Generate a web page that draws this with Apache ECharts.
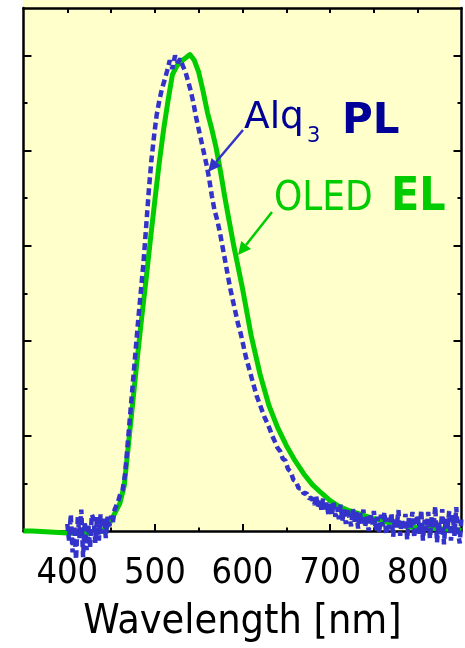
<!DOCTYPE html>
<html>
<head>
<meta charset="utf-8">
<script src="https://cdn.jsdelivr.net/npm/echarts@6/dist/echarts.min.js"></script>
<style>
html,body{margin:0;padding:0;background:#fff;}
#chart{width:465px;height:648px;}
</style>
</head>
<body>
<div id="chart"></div>
<script>
// ---- data ----
const elWavelength = [350,360,370,380,390,400,410,420,430,440,445,450,455,460,465,470,475,480,485,490,495,500,505,510,515,520,525,530,535,540,545,550,555,560,565,570,575,580,585,590,595,600,610,620,630,640,650,660,670,680,690,700,710,720,730,740,750,760,770,780,790,800,810,820,830,840,850];
const elIntensity = [0.000,0.000,-0.001,-0.002,-0.003,-0.004,-0.005,-0.005,-0.004,0.000,0.008,0.022,0.040,0.058,0.095,0.185,0.275,0.365,0.450,0.530,0.615,0.696,0.775,0.845,0.905,0.960,0.978,0.988,0.995,1.002,0.990,0.965,0.925,0.880,0.845,0.805,0.755,0.700,0.650,0.600,0.555,0.510,0.410,0.330,0.265,0.218,0.180,0.148,0.120,0.097,0.080,0.064,0.052,0.044,0.038,0.032,0.026,0.021,0.016,0.012,0.009,0.007,0.006,0.005,0.004,0.003,0.001];

const plWavelength = [
 400,402,404,406,408,410,412,414,416,418,420,422,424,426,428,430,432,434,436,438,440,442,444,446,448,450,452,454,456,458,460,
 463,466,469,472,475,478,481,484,487,490,493,496,499,502,505,508,511,514,517,520,523,526,529,532,535,538,541,544,547,550,553,556,559,562,565,568,571,574,577,580,583,586,589,592,595,598,601,604,607,610,613,616,619,622,625,628,631,634,637,640,643,646,649,652,655,658,661,664,667,670,673,676,679,
 680,682,684,686,688,690,692,694,696,698,700,702,704,706,708,710,712,714,716,718,720,722,724,726,728,730,732,734,736,738,740,742,744,746,748,750,752,754,756,758,760,762,764,766,768,770,772,774,776,778,780,782,784,786,788,790,792,794,796,798,800,802,804,806,808,810,812,814,816,818,820,822,824,826,828,830,832,834,836,838,840,842,844,846,848,850];
const plIntensity = [
 0.015,-0.020,0.035,-0.045,0.010,-0.060,0.030,-0.015,0.045,-0.055,0.020,-0.040,0.015,-0.035,0.035,0.025,-0.025,0.030,-0.020,0.035,-0.005,0.028,-0.015,0.030,0.010,0.032,0.018,0.045,0.048,0.062,0.075,
 0.085,0.120,0.185,0.250,0.315,0.380,0.445,0.505,0.565,0.640,0.715,0.780,0.830,0.875,0.905,0.930,0.948,0.968,0.990,0.972,1.000,0.985,0.993,0.978,0.965,0.945,0.925,0.900,0.870,0.845,0.820,0.795,0.770,0.740,0.705,0.675,0.655,0.630,0.600,0.570,0.540,0.510,0.485,0.460,0.435,0.415,0.390,0.365,0.345,0.325,0.305,0.285,0.270,0.255,0.240,0.228,0.215,0.200,0.188,0.175,0.168,0.152,0.148,0.130,0.125,0.108,0.105,0.090,0.090,0.078,0.080,0.068,0.070,
 0.072,0.055,0.075,0.050,0.066,0.045,0.068,0.042,0.060,0.035,0.058,0.032,0.060,0.030,0.050,0.025,0.055,0.022,0.045,0.015,0.048,0.028,0.010,0.046,0.020,0.040,0.005,0.038,0.015,0.045,0.008,0.032,0.000,0.036,0.012,0.042,0.002,0.030,-0.004,0.034,0.010,0.040,-0.008,0.028,0.004,0.038,-0.012,0.026,0.008,0.044,-0.010,0.024,0.002,0.036,-0.018,0.030,0.004,0.040,-0.014,0.020,0.034,-0.006,0.044,-0.020,0.024,0.000,0.040,-0.016,0.030,0.006,0.052,-0.024,0.020,-0.006,0.046,-0.028,0.028,0.004,0.042,-0.020,0.034,-0.010,0.050,-0.004,-0.026,0.030];

const xMajorTicks = [400,500,600,700,800];
const xMinorTicks = [450,550,650,750];
const xTopTicks = [400,450,500,550,600,650,700,750,800];
const yMajorTicks = [0.2,0.4,0.6,0.8,1.0];
const yMinorTicks = [0.1,0.3,0.5,0.7,0.9];
const xAxisName = 'Wavelength [nm]';
const plLabel = ['Alq', '3', 'PL'];
const elLabel = ['OLED', 'EL'];

// ---- chart ----
const FONT_C = "'DejaVu Sans Condensed', 'DejaVu Sans', sans-serif";
const FONT = "'DejaVu Sans', sans-serif";
const X_MIN = 350, X_MAX = 850, Y_MIN = 0, Y_MAX = 1.1;
const BLACK = '#000';

function zip(a, b) { return a.map((v, i) => [v, b[i]]); }

const chart = echarts.init(document.getElementById('chart'), null, {renderer: 'canvas'});

function xAx(pos, ticks, len, showLine, extra) {
  return Object.assign({
    type: 'value', position: pos, min: X_MIN, max: X_MAX,
    axisLine: {show: showLine, onZero: false, lineStyle: {color: BLACK, width: 2.5}},
    axisTick: {show: true, inside: true, length: len, customValues: ticks, lineStyle: {color: BLACK, width: 2}},
    axisLabel: {show: false},
    splitLine: {show: false}
  }, extra || {});
}
function yAx(pos, ticks, len, showLine) {
  return {
    type: 'value', position: pos, min: Y_MIN, max: Y_MAX,
    axisLine: {show: showLine, onZero: false, lineStyle: {color: BLACK, width: 2.5}},
    axisTick: {show: true, inside: true, length: len, customValues: ticks, lineStyle: {color: BLACK, width: 2}},
    axisLabel: {show: false},
    splitLine: {show: false}
  };
}

const option = {
  animation: false,
  backgroundColor: '#ffffff',
  grid: {left: 23.5, right: 3.5, top: 8, bottom: 115.5, containLabel: false},
  xAxis: [
    xAx('bottom', xMajorTicks, 7, true, {
      axisLabel: {show: true, customValues: xMajorTicks, margin: 25, fontSize: 36, fontFamily: FONT_C, color: BLACK},
      name: xAxisName, nameLocation: 'middle', nameGap: 71,
      nameTextStyle: {fontSize: 41, fontFamily: FONT_C, color: BLACK}
    }),
    xAx('bottom', xMinorTicks, 3.5, false),
    xAx('top', xTopTicks, 5, true)
  ],
  yAxis: [
    yAx('left', yMajorTicks, 8, true),
    yAx('left', yMinorTicks, 4, false),
    yAx('right', yMajorTicks, 8, true),
    yAx('right', yMinorTicks, 4, false)
  ],
  graphic: [
    {type: 'rect', z: -10, shape: {x: 23, y: 0, width: 437, height: 530}, style: {fill: '#FFFFCC'}, silent: true},
    // labels
    {type: 'text', z: 100, style: {text: plLabel[0], x: 244, y: 118, fontSize: 37.5, fontFamily: FONT, fill: '#000099', verticalAlign: 'middle', align: 'left'}},
    {type: 'text', z: 100, style: {text: plLabel[1], x: 307, y: 137, fontSize: 21, fontFamily: FONT, fill: '#000099', verticalAlign: 'middle', align: 'left'}},
    {type: 'text', z: 100, style: {text: plLabel[2], x: 342, y: 122, fontSize: 42, fontWeight: 'bold', fontFamily: FONT, fill: '#000099', verticalAlign: 'middle', align: 'left'}},
    {type: 'text', z: 100, style: {text: elLabel[0], x: 274, y: 200, fontSize: 40, fontFamily: FONT_C, fill: '#00CC00', verticalAlign: 'middle', align: 'left'}},
    {type: 'text', z: 100, style: {text: elLabel[1], x: 391, y: 198, fontSize: 46, fontWeight: 'bold', fontFamily: FONT_C, fill: '#00CC00', verticalAlign: 'middle', align: 'left'}},
    // arrows
    {type: 'line', z: 100, shape: {x1: 243, y1: 130, x2: 216, y2: 162}, style: {stroke: '#3333CC', lineWidth: 2.5}},
    {type: 'polygon', z: 100, shape: {points: [[208, 172], [221, 166], [211.5, 158]]}, style: {fill: '#3333CC'}},
    {type: 'line', z: 100, shape: {x1: 272, y1: 212, x2: 246, y2: 245}, style: {stroke: '#00CC00', lineWidth: 2.5}},
    {type: 'polygon', z: 100, shape: {points: [[238, 255], [251, 249], [241.2, 241]]}, style: {fill: '#00CC00'}}
  ],
  series: [
    {
      name: 'OLED EL', type: 'line', xAxisIndex: 0, yAxisIndex: 0,
      data: zip(elWavelength, elIntensity),
      showSymbol: false, clip: false, z: 3,
      lineStyle: {color: '#00CC00', width: 5, join: 'round'}
    },
    {
      name: 'Alq3 PL', type: 'line', xAxisIndex: 0, yAxisIndex: 0,
      data: zip(plWavelength, plIntensity),
      showSymbol: false, clip: false, z: 4,
      lineStyle: {color: '#3333CC', width: 4.5, type: [7, 4], cap: 'butt'}
    }
  ]
};
chart.setOption(option);
</script>
</body>
</html>
